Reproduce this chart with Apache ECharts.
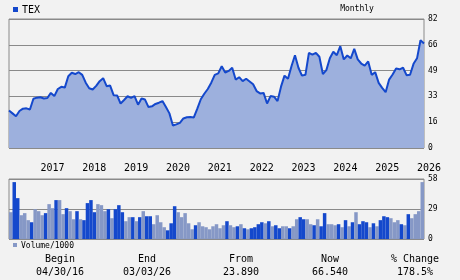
<!DOCTYPE html>
<html><head><meta charset="utf-8">
<script src="https://cdn.jsdelivr.net/npm/echarts@6/dist/echarts.min.js"></script>
<style>html,body{margin:0;padding:0;background:#f2f2f2}#c{width:460px;height:280px}</style>
</head><body><div id="c"></div>
<script>
// Monthly categories from 2016-04 to 2026-03
const startYear = 2016, startMonth = 4, monthCount = 120;
const months = [];
for (let i = 0; i < monthCount; i++) {
  const m = startMonth - 1 + i;
  const y = startYear + Math.floor(m / 12);
  const mm = (m % 12) + 1;
  months.push(y + '-' + (mm < 10 ? '0' + mm : mm));
}
const yearLabels = ['2017','2018','2019','2020','2021','2022','2023','2024','2025','2026'];
const priceTicks = ['0','16','33','49','66','82'];
const volumeTicks = ['0','29','58'];

const price = [
  23.8, 22, 20.2, 23.5, 25, 25.2, 24.5, 31.3, 32, 32.3,
  31.5, 31.8, 35, 33, 37.5, 38.9, 38.4, 45.6, 47.8, 47,
  48.2, 46.5, 41.5, 38, 37.2, 39.5, 42.5, 44.4, 39.3, 39.7,
  33.6, 33.4, 28.3, 30.5, 32.9, 31.9, 33, 27.5, 31.5, 30.8,
  26, 26.5, 28, 28.8, 29.8, 26, 22, 14.3, 15, 16,
  18.8, 19.5, 19.7, 19.4, 25, 31, 34.5, 37.5, 41.5, 46.5,
  47.4, 52, 48, 49, 51, 43.5, 45, 42.5, 44, 42.3,
  40.5, 36.2, 34.7, 35, 28.3, 33, 32.6, 29.8, 39, 46,
  44, 52, 59, 51, 46, 46.5, 60.5, 59.4, 60.5, 58,
  47, 49.5, 57, 61.2, 59, 64.7, 56.3, 58.8, 57, 63,
  56.3, 53.7, 52.4, 55, 46.5, 48.2, 41.4, 38.2, 35.5, 43.5,
  46.7, 50.5, 50, 51, 46.3, 46.6, 53.5, 57, 68.5, 66.5
];

const volume = [
  25.9, 55, 39.5, 23, 25, 18.2, 16.2, 28.8, 26.9, 23,
  25, 33.7, 29.8, 37.6, 37.6, 24, 29.8, 26.9, 19.1, 26.9,
  19.1, 18.2, 34.7, 37.6, 25.9, 33.7, 32.7, 26.9, 28.8, 20.1,
  28.8, 32.7, 25.9, 17.2, 21.1, 21.1, 17.2, 21.1, 26.9, 22,
  22, 14.3, 23, 16.2, 11.4, 8.4, 15.2, 31.7, 25.9, 21.1,
  25, 15.2, 9.4, 13.3, 16.2, 12.3, 11.4, 9.4, 12.3, 14.3,
  10.4, 13.3, 17.2, 13.3, 11.4, 12.3, 14.3, 10.4, 9.4, 10.4,
  11.4, 14.3, 16.2, 15.2, 17.2, 12.3, 13.3, 10.4, 12.3, 12.3,
  10.4, 12.3, 19.1, 21.1, 19.1, 19.1, 14.3, 13.3, 19.1, 12.3,
  25, 14.3, 14.3, 13.3, 14.3, 11.4, 18.2, 12.3, 16.2, 25.9,
  14.3, 17.2, 16.2, 11.4, 15.2, 12.3, 18.2, 22, 21.1, 20.1,
  16.2, 18.2, 14.3, 13.3, 24, 20.1, 24, 26.9, 55
];

const summaryHeads = ['Begin', 'End', 'From', 'Now', '% Change'];
const summaryValues = ['04/30/16', '03/03/26', '23.890', '66.540', '178.5%'];

const DARK = '#1448cc', LIGHT = '#8698c6', AREA = '#9db0dd', GRID = '#8a8a8a';
const MONO = '"DejaVu Sans Mono", "Liberation Mono", monospace';

const volData = volume.map((v, i) => ({
  value: v,
  itemStyle: { color: (i > 0 && price[i] < price[i - 1]) ? DARK : LIGHT }
}));

const chart = echarts.init(document.getElementById('c'), null, { renderer: 'canvas' });
const colX = [60, 147, 241, 330, 415];
const graphics = [
  { type: 'rect', shape: { x: 13, y: 7, width: 5, height: 5 }, style: { fill: DARK } },
  { type: 'text', x: 22, y: 10, style: { text: 'TEX', font: '10px ' + MONO, fill: '#000', verticalAlign: 'middle' } },
  { type: 'text', x: 357, y: 9, style: { text: 'Monthly', font: '8px ' + MONO, fill: '#000', align: 'center', verticalAlign: 'middle' } },
  { type: 'rect', shape: { x: 13, y: 243, width: 4, height: 4 }, style: { fill: LIGHT } },
  { type: 'text', x: 21, y: 245.5, style: { text: 'Volume/1000', font: '8px ' + MONO, fill: '#000', verticalAlign: 'middle' } }
];
summaryHeads.forEach((h, i) => {
  graphics.push({ type: 'text', x: colX[i], y: 259, style: { text: h, font: '10px ' + MONO, fill: '#000', align: 'center', verticalAlign: 'middle' } });
  graphics.push({ type: 'text', x: colX[i], y: 272.5, style: { text: summaryValues[i], font: '10px ' + MONO, fill: '#000', align: 'center', verticalAlign: 'middle' } });
});

chart.setOption({
  animation: false,
  backgroundColor: '#f2f2f2',
  grid: [
    { left: 9, top: 19, width: 415, height: 129, show: true, borderColor: GRID, borderWidth: 1, backgroundColor: 'transparent' },
    { left: 9, top: 179, width: 415, height: 60, show: true, borderColor: GRID, borderWidth: 1, backgroundColor: 'transparent' }
  ],
  xAxis: [
    {
      type: 'category', gridIndex: 0, data: months, boundaryGap: false,
      axisLine: { show: false }, axisTick: { show: false }, splitLine: { show: false },
      axisLabel: {
        interval: (idx, v) => v.slice(5) === '01',
        formatter: v => yearLabels.find(y => y === v.slice(0, 4)) || '',
        align: 'left', margin: 15, fontFamily: MONO, fontSize: 10, color: '#000'
      }
    },
    {
      type: 'category', gridIndex: 1, data: months.slice(0, volume.length), boundaryGap: true,
      axisLine: { show: false }, axisTick: { show: false }, axisLabel: { show: false }, splitLine: { show: false }
    }
  ],
  yAxis: [
    {
      type: 'value', gridIndex: 0, position: 'right', min: 0, max: 82, interval: 16.4,
      axisLine: { show: false }, axisTick: { show: false },
      splitLine: { show: true, lineStyle: { color: GRID, width: 1 } },
      axisLabel: { margin: 4, fontFamily: MONO, fontSize: 8, color: '#000', padding: [3, 0, 0, 0],
        formatter: (v) => priceTicks[Math.round(v / 16.4)] }
    },
    {
      type: 'value', gridIndex: 1, position: 'right', min: 0, max: 58, interval: 29,
      axisLine: { show: false }, axisTick: { show: false },
      splitLine: { show: true, lineStyle: { color: GRID, width: 1 } },
      axisLabel: { margin: 4, fontFamily: MONO, fontSize: 8, color: '#000', padding: [2, 0, 0, 0],
        formatter: v => volumeTicks[Math.round(v / 29)] }
    }
  ],
  series: [
    {
      type: 'line', xAxisIndex: 0, yAxisIndex: 0, data: price,
      showSymbol: false, symbol: 'none',
      lineStyle: { color: DARK, width: 2 },
      areaStyle: { color: AREA, opacity: 1 }
    },
    {
      type: 'bar', xAxisIndex: 1, yAxisIndex: 1, data: volData,
      barCategoryGap: '0%', large: false,
      itemStyle: { borderWidth: 0 }
    }
  ],
  graphic: graphics
});
</script>
</body></html>
